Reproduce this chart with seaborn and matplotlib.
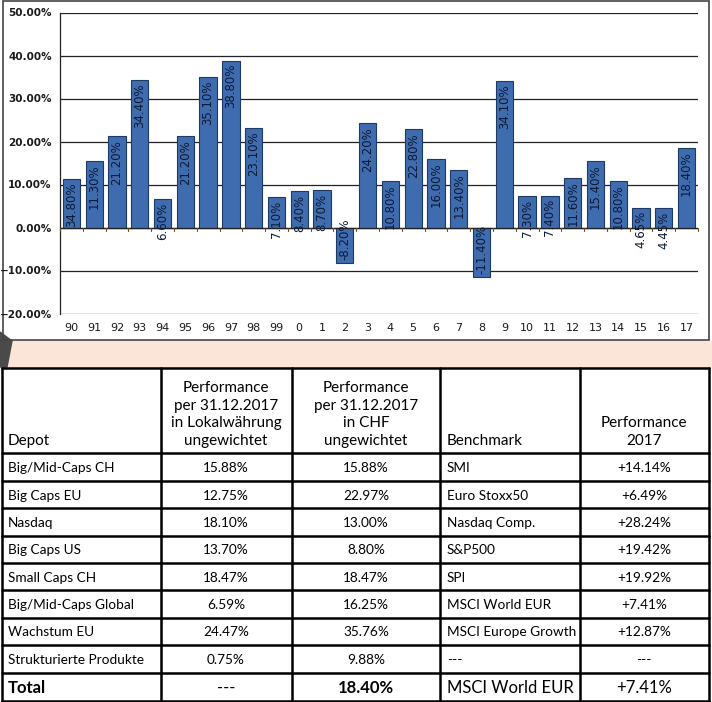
import numpy as np
import pandas as pd
import matplotlib
matplotlib.use("Agg")
import matplotlib.pyplot as plt
import matplotlib.patches as mpatches
from matplotlib.ticker import PercentFormatter
import seaborn as sns

# --- chart data ---
years = ["90", "91", "92", "93", "94", "95", "96", "97", "98", "99", "0", "1", "2", "3",
         "4", "5", "6", "7", "8", "9", "10", "11", "12", "13", "14", "15", "16", "17"]
values = [11.3, 15.5, 21.2, 34.4, 6.6, 21.2, 35.1, 38.8, 23.1, 7.1, 8.4, 8.7, -8.2, 24.2,
          10.8, 22.8, 16.0, 13.4, -11.4, 34.1, 7.3, 7.4, 11.6, 15.4, 10.8, 4.65, 4.45, 18.4]
bar_labels = ["34.80%", "11.30%", "21.20%", "34.40%", "6.60%", "21.20%", "35.10%", "38.80%",
              "23.10%", "7.10%", "8.40%", "8.70%", "-8.20%", "24.20%", "10.80%", "22.80%",
              "16.00%", "13.40%", "-11.40%", "34.10%", "7.30%", "7.40%", "11.60%", "15.40%",
              "10.80%", "4.65%", "4.45%", "18.40%"]

# --- table data ---
depot = ["Big/Mid-Caps CH", "Big Caps EU", "Nasdaq", "Big Caps US", "Small Caps CH",
         "Big/Mid-Caps Global", "Wachstum EU", "Strukturierte Produkte"]
perf_local = ["15.88%", "12.75%", "18.10%", "13.70%", "18.47%", "6.59%", "24.47%", "0.75%"]
perf_chf = ["15.88%", "22.97%", "13.00%", "8.80%", "18.47%", "16.25%", "35.76%", "9.88%"]
benchmark = ["SMI", "Euro Stoxx50", "Nasdaq Comp.", "S&P500", "SPI", "MSCI World EUR",
             "MSCI Europe Growth", "---"]
perf_2017 = ["+14.14%", "+6.49%", "+28.24%", "+19.42%", "+19.92%", "+7.41%", "+12.87%", "---"]
total_row = ["Total", "---", "18.40%", "MSCI World EUR", "+7.41%"]
headers = ["Depot", "Performance\nper 31.12.2017\nin Lokalwährung\nungewichtet",
           "Performance\nper 31.12.2017\nin CHF\nungewichtet", "Benchmark", "Performance\n2017"]

sns.set_style("white")
plt.rcParams["font.family"] = ["DejaVu Sans"]
tfont = ["Lato", "DejaVu Sans"]

W, H = 712, 702
fig = plt.figure(figsize=(W / 100, H / 100), dpi=100)

# background layer in pixel coordinates
bg = fig.add_axes([0, 0, 1, 1])
bg.set_xlim(0, W)
bg.set_ylim(H, 0)
bg.axis("off")
# peach strip and chart frame
bg.add_patch(mpatches.Rectangle((0, 341), W, 26, color="#fbe4d8", zorder=0))
bg.add_patch(mpatches.Polygon([[0, 332], [12, 341], [7, 367], [0, 367]], color="#4a4a4a", zorder=1))
bg.add_patch(mpatches.Rectangle((3, 1), W - 6, 339, fill=False, ec="#444444", lw=1.2, zorder=2))

# --- bar chart ---
ax = fig.add_axes([60 / W, 1 - 313.5 / H, (698 - 60) / W, (313.5 - 12.5) / H])
df = pd.DataFrame({"year": years, "value": values})
sns.barplot(data=df, x="year", y="value", color="#3f6cae", edgecolor="#1d3a66",
            linewidth=0.8, width=0.76, saturation=1, ax=ax, zorder=3)
ax.set_xlim(-0.5, len(years) - 0.5)
ax.set_ylim(-20, 50)
ax.set_yticks(np.arange(-20, 51, 10))
ax.yaxis.set_major_formatter(PercentFormatter(decimals=2))
ax.grid(axis="y", color="#222222", lw=0.9, zorder=0)
ax.axhline(0, color="#222222", lw=0.9, zorder=4)
for s in ["top", "right", "bottom"]:
    ax.spines[s].set_visible(False)
ax.spines["left"].set_color("#222222")
ax.spines["left"].set_linewidth(0.9)
ax.set_xlabel("")
ax.set_ylabel("")
ax.tick_params(axis="y", length=4, width=0.9, color="#222222", labelsize=7.5, pad=2)
ax.tick_params(axis="x", length=0, labelsize=8, pad=7)
for lab in ax.get_yticklabels():
    lab.set_fontweight("bold")
    lab.set_color("#1a1a1a")
for lab in ax.get_xticklabels():
    lab.set_color("#1a1a1a")
# small tick marks between categories on the zero line
for b in np.arange(-0.5, len(years), 1.0):
    ax.plot([b, b], [0, -0.9], color="#6b4a2a", lw=0.8, zorder=5, clip_on=False)

for i, (v, t) in enumerate(zip(values, bar_labels)):
    if v >= 0:
        ax.text(i, v - 0.8, t, rotation=90, ha="center", va="top", fontsize=8.5,
                color="#0c1a36", zorder=6)
    else:
        ax.text(i, v + 0.6, t, rotation=90, ha="center", va="bottom", fontsize=8.5,
                color="#0c1a36", zorder=6)

# --- table ---
tb = bg
col_x = [2, 161, 292, 440, 580, 709]
row_y = [368, 453, 481, 508, 536, 563, 590, 618, 645, 673, 701]
for x in col_x:
    tb.plot([x, x], [row_y[0], row_y[-1]], color="black", lw=1.8, zorder=3)
for y in row_y:
    tb.plot([col_x[0], col_x[-1]], [y, y], color="black", lw=1.8, zorder=3)

hx = [8, 226, 366, 447, 644]
ha = ["left", "center", "center", "left", "center"]
for x, h, t in zip(hx, ha, headers):
    tb.text(x, 448, t, ha=h, va="bottom", multialignment="center", fontsize=11,
            family=tfont, color="black", linespacing=1.32, zorder=4)

cols = [depot, perf_local, perf_chf, benchmark, perf_2017]
for r in range(len(depot)):
    yc = (row_y[r + 1] + row_y[r + 2]) / 2 + 1
    for x, h, col in zip(hx, ha, cols):
        tb.text(x, yc, col[r], ha=h, va="center", fontsize=9.8, family=tfont,
                color="black", zorder=4)

yc = (row_y[-2] + row_y[-1]) / 2 + 1
weights = ["bold", "normal", "bold", "normal", "normal"]
for x, h, t, w in zip(hx, ha, total_row, weights):
    tb.text(x, yc, t, ha=h, va="center", fontsize=12, family=tfont, fontweight=w,
            color="black", zorder=4)

fig.savefig("out.png", dpi=100)
